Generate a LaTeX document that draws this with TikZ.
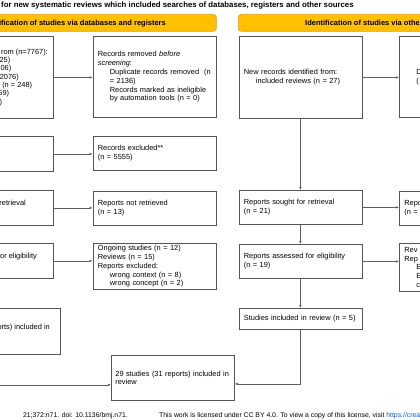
\documentclass[tikz,border=0pt]{standalone}
\usepackage{fontspec}
\setmainfont{Liberation Sans}
\usetikzlibrary{arrows.meta}
\definecolor{headYellow}{RGB}{255, 192, 0}
\definecolor{headEdge}{RGB}{215, 160, 25}
\definecolor{boxGray}{RGB}{85, 85, 85}
\definecolor{arrowGray}{RGB}{95, 95, 95}
\definecolor{linkBlue}{RGB}{17, 85, 204}
\newcommand{\prIndent}{\hspace*{12pt}}

\begin{document}
\begin{tikzpicture}[x=1pt, y=-1pt,
    txt/.style={font=\fontsize{7.4}{8.8}\selectfont},
    pbox/.style={txt, draw=boxGray, line width=0.8pt, anchor=north west,
      inner xsep=5pt, inner ysep=0pt, text width=113pt, align=left},
    header/.style={draw=headEdge, fill=headYellow, rounded corners=3pt,
      line width=0.6pt, anchor=north west, minimum height=17pt, minimum width=282pt},
    headtext/.style={font=\fontsize{7.5}{9}\selectfont\bfseries, inner sep=0pt},
    frag/.style={txt, inner sep=0pt, anchor=base east},
    foot/.style={font=\fontsize{6.85}{8}\selectfont, inner sep=0pt},
    flow/.style={arrowGray, line width=0.7pt, -{Latex[length=3pt, width=2.6pt]}}
  ]
  \useasboundingbox (0,0) rectangle (420,420);
  \clip (0,0) rectangle (420,420);

  % Title and phase headers
  \node[font=\fontsize{7.8}{9}\selectfont\bfseries, anchor=base west, inner sep=0pt] (title) at (1,8) {for new systematic reviews which included searches of databases, registers and other sources};
  \node[header] (hdrDb) at (-66,14) {};
  \node[headtext, anchor=base east] (hdrDbText) at (166,25.2) {ification of studies via databases and registers};
  \node[header] (hdrOther) at (238,14) {};
  \node[headtext, anchor=base west] (hdrOtherText) at (305,25.2) {Identification of studies via other};

  % Databases and registers: main column (cut at the left)
  \node[pbox, text width=133pt, minimum height=82pt] (dbFound) at (-90,36) {};
  \node[pbox, text width=133pt, minimum height=35pt] (dbScreened) at (-90,136) {};
  \node[pbox, text width=133pt, minimum height=35pt] (dbSought) at (-90,190) {};
  \node[pbox, text width=133pt, minimum height=35pt] (dbAssessed) at (-90,243) {};
  \node[pbox, text width=140pt, minimum height=46pt] (dbIncluded) at (-90,308) {};

  \foreach \endx/\txt [count=\i from 0] in {48/{rom (n=7767):}, 10.5/{25)}, 11.5/{06)}, 19/{2076)}, 32.3/{(n = 248)}, 9.3/{59)}, 2.3/{)}}
    \node[frag] (foundLine\i) at (\endx, 54.3+8.3*\i) {\txt};
  \node[frag] (soughtText) at (26,205.7) {retrieval};
  \node[frag] (assessedText) at (37,258.7) {or eligibility};
  \node[frag] (includedText) at (50,329.2) {orts) included in};

  % Databases and registers: side column
  \node[pbox, minimum height=81pt] (dbRemoved) at (92.5,36) {Records removed \textit{before}\\ \textit{screening}:\\ \prIndent Duplicate records removed\ \ (n\\ \prIndent = 2136)\\ \prIndent Records marked as ineligible\\ \prIndent by automation tools (n = 0)};
  \node[pbox, minimum height=34pt] (dbExcluded) at (92.5,136) {Records excluded**\\(n = 5555)};
  \node[pbox, minimum height=34pt] (dbNotRetr) at (92.5,191) {Reports not retrieved\\(n = 13)};
  \node[pbox, minimum height=46pt] (dbReasons) at (92.5,243) {Ongoing studies (n = 12)\\Reviews (n = 15)\\Reports excluded:\\ \prIndent wrong context (n = 8)\\ \prIndent wrong concept (n = 2)};

  % Total
  \node[pbox, text width=115pt, inner xsep=4pt, minimum height=45pt] (included) at (111,355) {29 studies (31 reports) included in\\review};

  % Other methods
  \node[pbox, minimum height=82pt] (otherFound) at (238.5,36) {New records identified from:\\ \prIndent included reviews (n = 27)};
  \node[pbox, minimum height=34pt] (otherSought) at (238.5,190) {Reports sought for retrieval\\(n = 21)};
  \node[pbox, minimum height=34pt] (otherAssessed) at (238.5,244) {Reports assessed for eligibility\\(n = 19)};
  \node[pbox, minimum height=21pt] (otherIncluded) at (238.5,308) {Studies included in review (n = 5)};
  \node[pbox, minimum height=81pt] (otherRemoved) at (399,36) {\prIndent D\\ \prIndent (};
  \node[pbox, minimum height=34pt] (otherNotRetr) at (399,191) {Repo\\(n =};
  \node[pbox, minimum height=48pt] (otherExcluded) at (399,243) {Rev\\Rep\\ \prIndent E\\ \prIndent E\\ \prIndent c};

  % Connectors
  \draw[flow] (dbFound.east) -- (dbFound.east -| dbRemoved.west);
  \draw[flow] (dbScreened.east) -- (dbScreened.east -| dbExcluded.west);
  \draw[flow] (dbSought.east) -- (dbSought.east -| dbNotRetr.west);
  \draw[flow] (dbAssessed.east) -- (dbAssessed.east -| dbReasons.west);
  \draw[flow] (dbIncluded.south) |- ([yshift=-7pt]included.west);
  \draw[flow] (otherFound.east) -- (otherFound.east -| otherRemoved.west);
  \draw[flow] (otherFound.south) -- (otherSought.north);
  \draw[flow] (otherSought.east) -- (otherSought.east -| otherNotRetr.west);
  \draw[flow] (otherSought.south) -- (otherAssessed.north);
  \draw[flow] (otherAssessed.east) -- (otherAssessed.east -| otherExcluded.west);
  \draw[flow] (otherAssessed.south) -- (otherIncluded.north);
  \draw[flow] (otherIncluded.south) |- ([yshift=-6pt]included.east);

  % Footer
  \node[foot, anchor=base east] (citeText) at (128,417.3) {21;372:n71. doi: 10.1136/bmj.n71.};
  \node[foot, anchor=base west] (licText) at (159,417.3) {This work is licensed under CC BY 4.0. To view a copy of this license, visit \textcolor{linkBlue}{\underline{https://creati}}};
\end{tikzpicture}
\end{document}
